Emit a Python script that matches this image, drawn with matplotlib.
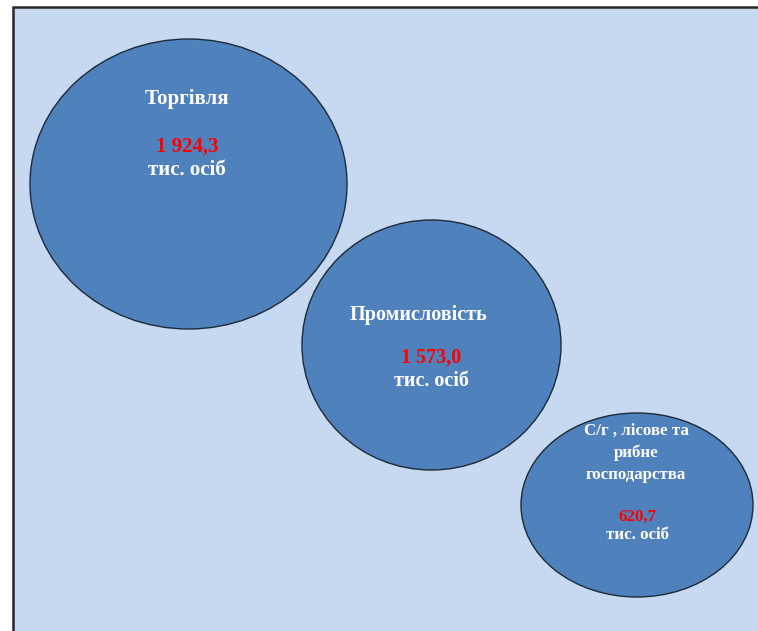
import matplotlib.pyplot as plt
from matplotlib.patches import Ellipse, Rectangle

# дані
sectors = ['Торгівля', 'Промисловість', 'С/г , лісове та\nрибне\nгосподарства']
values = [1924.3, 1573.0, 620.7]
unit = 'тис. осіб'

# розміщення еліпсів (центр x, центр y, ширина, висота) у пікселях
layout = [(188.5, 184, 317, 290), (431.5, 345, 259, 250), (637, 505, 232, 184)]
# положення підписів: (x назви, y назви, x числа, y числа, y одиниці, розмір шрифту)
labels_pos = [(187, 99, 187, 147, 170, 15),
              (418, 315, 431, 358, 381, 14.5),
              (636, 453, 637, 517, 535, 12.2)]


def fmt(v):
    return f'{v:,.1f}'.replace(',', ' ').replace('.', ',')


plt.rcParams['font.family'] = ['Liberation Serif', 'DejaVu Serif']

fig = plt.figure(figsize=(7.58, 6.31), dpi=100)
ax = fig.add_axes([0, 0, 1, 1])
ax.set_xlim(0, 758)
ax.set_ylim(631, 0)
ax.axis('off')

# фон
ax.add_patch(Rectangle((12.5, 6.5), 760, 640, facecolor='#C6D9F0',
                       edgecolor='#262626', linewidth=1.8))

for (cx, cy, w, h) in layout:
    ax.add_patch(Ellipse((cx, cy), w, h, facecolor='#4F81BD',
                         edgecolor='#1E2A38', linewidth=1.0))

for name, v, (tx, ty, nx, ny, uy, fs) in zip(sectors, values, labels_pos):
    ax.text(tx, ty, name, ha='center', va='center', color='white',
            fontsize=fs, fontweight='bold', linespacing=1.45)
    ax.text(nx, ny, fmt(v), ha='center', va='center', color='#FF0000',
            fontsize=fs, fontweight='bold')
    ax.text(nx, uy, unit, ha='center', va='center', color='white',
            fontsize=fs, fontweight='bold')

fig.savefig('out.png', dpi=100)
